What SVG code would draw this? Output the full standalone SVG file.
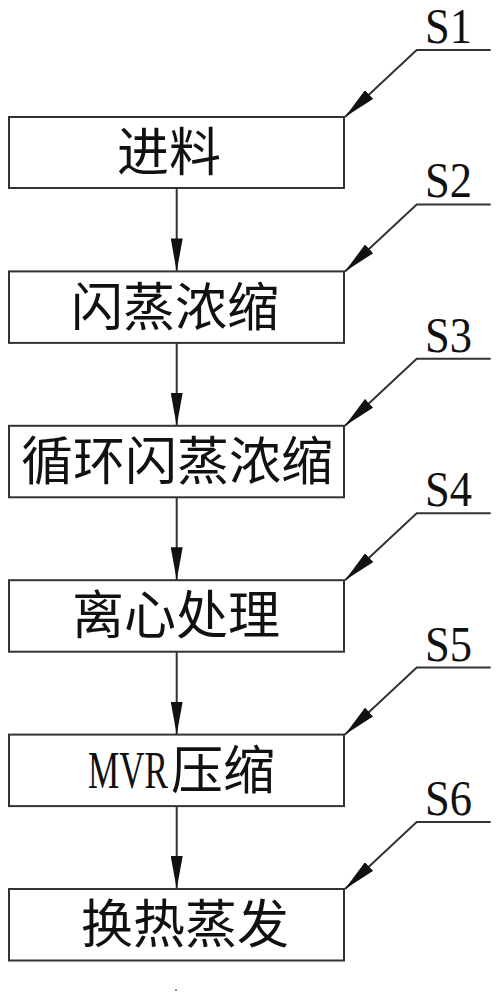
<svg xmlns="http://www.w3.org/2000/svg" width="499" height="1000" viewBox="0 0 499 1000">
<style>
.box{fill:#fff;stroke:#333;stroke-width:2}
.cn{font-family:"Noto Sans CJK SC","Noto Sans CJK JP",sans-serif;font-size:52px;fill:#111;text-anchor:middle}
.lat{font-family:"Liberation Serif",serif;font-size:53px;fill:#111}
.lab{font-family:"Liberation Serif",serif;font-size:50px;fill:#111}
.ln{fill:none;stroke:#333;stroke-width:2}
</style>
<defs>
<marker id="ah" markerUnits="userSpaceOnUse" markerWidth="34" markerHeight="12" refX="33" refY="6" orient="auto" viewBox="0 0 34 12">
<path d="M0,0 L33,6 L0,12 Z" fill="#111"/>
</marker>
</defs>
<rect width="499" height="1000" fill="#fff"/>
<g id="connectors">
<line class="ln" x1="176.7" y1="188" x2="176.7" y2="271.4" marker-end="url(#ah)"/>
<line class="ln" x1="176.7" y1="342.9" x2="176.7" y2="425.8" marker-end="url(#ah)"/>
<line class="ln" x1="176.7" y1="497.3" x2="176.7" y2="580.2" marker-end="url(#ah)"/>
<line class="ln" x1="176.7" y1="651.7" x2="176.7" y2="734.6" marker-end="url(#ah)"/>
<line class="ln" x1="176.7" y1="806.1" x2="176.7" y2="889" marker-end="url(#ah)"/>
</g>
<g id="leaders">
<g id="lead-S1"><polyline class="ln" points="490.7,50 416.7,50 345,117" marker-end="url(#ah)"/><text class="lab" x="425" y="43" textLength="47" lengthAdjust="spacingAndGlyphs">S1</text></g>
<g id="lead-S2"><polyline class="ln" points="490.7,204.4 416.7,204.4 345,271.4" marker-end="url(#ah)"/><text class="lab" x="425" y="197.4" textLength="47" lengthAdjust="spacingAndGlyphs">S2</text></g>
<g id="lead-S3"><polyline class="ln" points="490.7,358.8 416.7,358.8 345,425.8" marker-end="url(#ah)"/><text class="lab" x="425" y="351.8" textLength="47" lengthAdjust="spacingAndGlyphs">S3</text></g>
<g id="lead-S4"><polyline class="ln" points="490.7,513.2 416.7,513.2 345,580.2" marker-end="url(#ah)"/><text class="lab" x="425" y="506.2" textLength="47" lengthAdjust="spacingAndGlyphs">S4</text></g>
<g id="lead-S5"><polyline class="ln" points="490.7,667.6 416.7,667.6 345,734.6" marker-end="url(#ah)"/><text class="lab" x="425" y="660.6" textLength="47" lengthAdjust="spacingAndGlyphs">S5</text></g>
<g id="lead-S6"><polyline class="ln" points="490.7,822 416.7,822 345,889" marker-end="url(#ah)"/><text class="lab" x="425" y="815" textLength="47" lengthAdjust="spacingAndGlyphs">S6</text></g>
</g>
<g id="node-1"><rect class="box" x="9" y="117" width="335" height="71"/><text class="cn" x="169" y="171">进料</text></g>
<g id="node-2"><rect class="box" x="9" y="271.4" width="335" height="71.5"/><text class="cn" x="175" y="325.6">闪蒸浓缩</text></g>
<g id="node-3"><rect class="box" x="9" y="425.8" width="335" height="71.5"/><text class="cn" x="177" y="480">循环闪蒸浓缩</text></g>
<g id="node-4"><rect class="box" x="9" y="580.2" width="335" height="71.5"/><text class="cn" x="176" y="634.4">离心处理</text></g>
<g id="node-5"><rect class="box" x="9" y="734.6" width="335" height="71.5"/><text class="lat" transform="translate(88,788) scale(0.663,1)">MVR</text><text class="cn" x="223" y="788.8">压缩</text></g>
<g id="node-6"><rect class="box" x="9" y="889" width="335" height="71.5"/><text class="cn" x="185" y="943.2">换热蒸发</text></g>
<circle cx="176" cy="990" r="1" fill="#666"/>
</svg>
